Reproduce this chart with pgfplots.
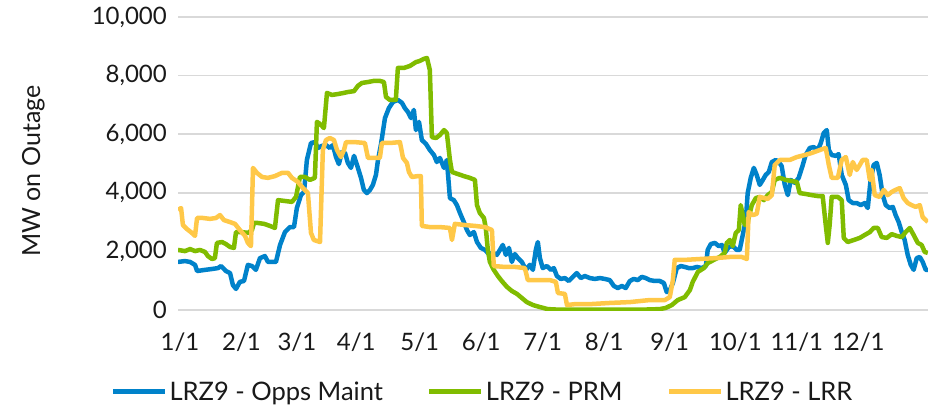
\documentclass[border=0pt]{standalone}
\usepackage{fontspec}
\setmainfont{Lato}
\usepackage{pgfplots}
\pgfplotsset{compat=1.18}
\definecolor{cblue}{RGB}{0,130,202}
\definecolor{cgreen}{RGB}{128,188,0}
\definecolor{cyellow}{RGB}{255,200,72}
\definecolor{cgrid}{RGB}{217,217,217}
\definecolor{ctext}{RGB}{25,25,25}
\begin{document}
\begin{tikzpicture}[font=\fontsize{24}{28}\selectfont, text=ctext]
\path[use as bounding box] (0,0) rectangle (930pt,418pt);
\begin{axis}[
  at={(178pt,108pt)}, anchor=south west,
  scale only axis, width=750pt, height=293pt,
  xmin=0, xmax=366, ymin=0, ymax=10000,
  axis line style={draw=none},
  major tick length=0pt,
  ytick={0,2000,4000,6000,8000,10000},
  ymajorgrids, grid style={cgrid, line width=1.6pt},
  xtick={1,31,58,87,118,148,178,208,240,272,302,332},
  xticklabels={1/1,2/1,3/1,4/1,5/1,6/1,7/1,8/1,9/1,10/1,11/1,12/1},
  yticklabel style={anchor=east, inner sep=0pt, xshift=-11pt},
  xticklabel style={anchor=north, inner sep=0pt, yshift=-23pt},
  scaled y ticks=false,
  yticklabel={\pgfmathprintnumber[assume math mode=true,1000 sep={,}]{\tick}},
  ylabel={MW on Outage},
  ylabel style={at={(axis description cs:-0.193,0.474)}, anchor=center, font=\fontsize{25}{29}\selectfont},
  legend style={at={(axis description cs:0.406,-0.279)}, anchor=center, draw=none, fill=none,
    legend columns=3, /tikz/every even column/.append style={column sep=42pt},
    inner sep=0pt, nodes={inner sep=2pt}, font=\fontsize{25.5}{29}\selectfont},
  legend image code/.code={\draw[#1, line width=5pt] (0pt,0pt) -- (52pt,0pt);},
  every axis plot/.append style={line width=4.5pt, line join=round, mark=none},
]
\addplot[cblue] coordinates {
(0,1640)(3.4,1670)(5.9,1640)(8.3,1540)(9.3,1330)(13.2,1370)(16.6,1400)(19.5,1430)(21,1500)(23.4,1330)
(25.4,1260)(26.8,850)(28.3,720)(30.2,960)(32.2,990)(34.1,1540)(36.1,1500)(38,1370)(40,1770)(42.4,1840)
(43.9,1640)(45.9,1640)(47.8,1640)(49.8,2220)(52.2,2660)(54.6,2830)(56.6,2830)(58,3480)(60,3920)(61.5,4030)
(62.9,5120)(64.9,5700)(66.8,5730)(68.3,5530)(70.2,5600)(72.2,5630)(74.1,5530)(75.6,5630)(77.1,5220)(78.5,4980)
(80,5390)(81.5,5360)(82.9,5020)(84.4,4850)(85.9,5260)(87.8,4850)(89.3,4510)(90.7,4100)(92.2,3990)(93.7,4100)
(95.1,4270)(96.6,4610)(97.6,5120)(99,5630)(101,6550)(102.9,6890)(104.9,7100)(107.3,7170)(109.3,7070)(110.7,6890)
(112.2,6760)(113.7,6550)(115.1,6830)(116.1,6140)(117.6,6420)(119,5800)(121,5670)(122.9,5460)(124.9,5290)(126.3,5050)
(127.8,5190)(129.8,4850)(131.2,5120)(132.7,3820)(134.6,3750)(136.1,3580)(137.6,3310)(139.5,3000)(141,2730)(142.4,2560)
(144.4,2660)(145.9,2320)(147.8,2120)(149.8,2050)(151.7,1910)(153.7,1950)(155.6,1880)(157.1,2050)(158.5,2220)(160,1880)
(161.5,2120)(162.9,1640)(164.4,1910)(165.9,1770)(167.8,1640)(169.8,1370)(171.7,1540)(173.2,1370)(174.6,2050)(175.6,2320)
(176.6,1770)(178,1430)(180,1500)(182,1370)(183.4,1430)(184.9,1160)(186.8,1060)(188.8,1090)(190.7,990)(192.7,1130)
(194.6,1260)(196.6,1090)(198.5,1160)(201,1090)(203.4,1060)(205.9,1090)(208.3,1060)(210.7,1020)(212.7,820)(214.6,750)
(216.6,820)(218.5,750)(220.5,990)(222.4,1060)(224.4,1020)(226.3,1130)(228.3,1090)(230.2,1020)(232.7,990)(235.1,990)
(237.1,920)(238.5,610)(240,680)(241.5,920)(243.4,1430)(245.4,1500)(247.3,1470)(249.3,1430)(251.2,1430)(253.2,1470)
(255.6,1430)(257.6,1500)(258.5,2050)(260,2250)(262,2290)(263.9,2180)(265.4,2220)(266.8,1950)(268.8,2150)(270.7,2180)
(272.7,2050)(274.1,2050)(275.6,2560)(277.1,3070)(278,3990)(279.5,4510)(281,4850)(282.4,4610)(283.9,4270)(285.4,4440)
(286.8,4610)(288.3,4710)(289.8,5050)(291.7,5120)(293.2,5050)(294.6,4910)(296.1,4270)(297.6,3920)(299,4440)(301,4340)
(302.9,4510)(304.9,4950)(306.3,5290)(308.3,5530)(310.2,5560)(312.2,5460)(313.7,5700)(315.1,6040)(316.6,6140)(317.6,5460)
(319,5290)(321,5260)(322.4,5320)(323.9,4610)(325.9,4270)(327.3,3750)(329.3,3650)(331.2,3650)(333.2,3580)(335.1,3650)
(336.6,3480)(338,4440)(339.5,4950)(341,5020)(342.4,4610)(343.9,3920)(345.4,3580)(347.3,3480)(348.8,3520)(350.2,3240)
(351.7,3000)(353.2,2660)(354.6,2390)(356.1,1880)(357.6,1540)(359,1370)(360.5,1770)(362,1810)(363.4,1640)(364.9,1370)
(365.9,1370)
};
\addlegendentry{LRZ9 - Opps Maint}
\addplot[cgreen] coordinates {
(0,2050)(3.4,2010)(5.9,2080)(8.3,2010)(10.7,2050)(13.2,1980)(14.6,1840)(16.6,1740)(18,1770)(19,2290)
(21.5,2320)(23.4,2250)(25.4,2150)(27.3,2120)(28.3,2660)(31.2,2660)(34.1,2630)(36.1,2730)(37.1,2970)(39,2970)
(42,2940)(44.9,2870)(47.3,2800)(48.8,3750)(52.2,3720)(55.6,3690)(57.6,3860)(59.5,4540)(62,4540)(64.4,4440)
(66.8,4510)(67.8,6420)(69.3,6350)(71.2,6210)(72.7,7410)(75.1,7340)(78,7370)(81,7410)(82.9,7440)(85.9,7470)
(87.8,7650)(89.8,7750)(92.7,7780)(95.6,7820)(98.5,7820)(100.5,7780)(101.5,7270)(103.4,7170)(106.3,7170)(107.3,8260)
(110.2,8260)(113.2,8330)(116.1,8460)(118,8500)(120,8570)(121.5,8600)(122.9,8190)(123.9,5900)(125.9,5870)(127.8,5970)
(129.8,6140)(131.2,6040)(132.7,5120)(133.7,4710)(136.6,4640)(139.5,4570)(142.4,4510)(144.9,4440)(145.9,3580)(147.3,3310)
(149.3,3140)(150.2,2800)(151.2,2050)(152.2,1640)(154.1,1370)(156.1,1160)(158,990)(160.5,790)(162.9,650)(165.4,550)
(167.8,410)(170.2,270)(173.2,170)(176.6,100)(180.5,30)(186.3,10)(205.9,10)(225.4,10)(235.1,30)(238,70)
(241,170)(243.9,340)(247.3,440)(249.8,680)(251.2,960)(253.7,1300)(256.6,1430)(258.5,1600)(261.5,1710)(264.4,1810)
(266.8,1950)(267.8,2290)(269.3,2390)(270.7,2180)(272.2,2630)(273.7,2730)(274.6,3580)(275.6,3240)(276.6,2900)(278,3000)
(280,3580)(282,3820)(283.9,3860)(285.9,3750)(287.8,3920)(289.8,4030)(291.2,4440)(293.7,4510)(296.6,4440)(299.5,4400)
(302,4370)(303.4,3990)(306.3,3960)(309.3,3920)(312.2,3890)(314.6,3890)(316.1,2900)(317.1,2290)(318,2900)(319,3860)
(322,3860)(323.9,3750)(324.9,2460)(326.8,2320)(329.8,2390)(332.7,2460)(335.1,2560)(337.6,2660)(339.5,2800)(341.5,2800)
(343.4,2490)(345.9,2460)(348.3,2590)(350.7,2530)(353.2,2490)(355.1,2660)(357.1,2800)(359,2560)(361,2290)(362.9,2220)
(364.4,1980)(365.9,1950)
};
\addlegendentry{LRZ9 - PRM}
\addplot[cyellow] coordinates {
(0,3410)(1.5,3480)(2.4,2900)(4.4,2760)(6.3,2660)(8.3,2530)(9.3,3140)(12.2,3140)(15.6,3110)(18.5,3140)
(20.5,3240)(22.4,3070)(25.4,3000)(27.8,2940)(30.2,2730)(32.7,2530)(34.1,2290)(35.6,2180)(36.6,4850)(38.5,4680)
(41,4540)(43.9,4510)(47.3,4570)(50.7,4680)(53.7,4680)(55.6,4510)(58.5,4370)(61,4160)(63.4,3990)(64.9,2630)
(66.3,2390)(69.3,2320)(70.7,5460)(72.2,5800)(74.1,5870)(76.1,5800)(77.6,5460)(79.5,5220)(81,5460)(82,5730)
(86.3,5730)(91.2,5700)(92.7,5190)(96.1,5190)(98.5,5190)(99.5,5700)(103.4,5700)(108.3,5730)(109.8,5190)(111.7,5020)
(112.7,4710)(114.1,4540)(117.1,4570)(118.5,4570)(119,2870)(122.9,2830)(127.8,2830)(132.7,2800)(133.7,2390)(135.1,2940)
(140,2900)(144.9,2870)(149.8,2830)(153.2,2730)(154.1,1500)(159.5,1470)(164.4,1470)(169.3,1430)(170.7,1020)(176.6,1020)
(181.5,1020)(184.4,960)(185.4,580)(188.8,550)(189.8,170)(193.7,200)(201,200)(210.7,240)(220.5,270)(230.2,340)
(237.6,340)(240,440)(241.5,1020)(242.4,1710)(247.3,1710)(254.6,1740)(262,1770)(269.3,1810)(275.1,1810)(277.6,1740)
(278.5,3340)(280.5,3240)(282.4,3280)(283.9,3860)(287.8,3790)(289.8,3920)(291.2,4950)(293.7,5120)(298.5,5120)(302,5220)
(305.9,5290)(309.3,5360)(313.2,5460)(316.1,5530)(317.6,4950)(319,4510)(322,4510)(323.9,5120)(325.9,5220)(327.8,4610)
(329.3,5050)(331.2,4780)(332.7,4950)(334.1,5120)(336.1,5120)(337.6,4440)(338.5,4780)(340,3920)(342.4,3860)(344.4,4100)
(346.3,3920)(348.3,4030)(350.2,4100)(352.2,4160)(354.1,3820)(356.1,3650)(358,3580)(360,3520)(362,3580)(363.4,3170)
(364.9,3070)(365.9,3000)
};
\addlegendentry{LRZ9 - LRR}
\end{axis}
\end{tikzpicture}
\end{document}
